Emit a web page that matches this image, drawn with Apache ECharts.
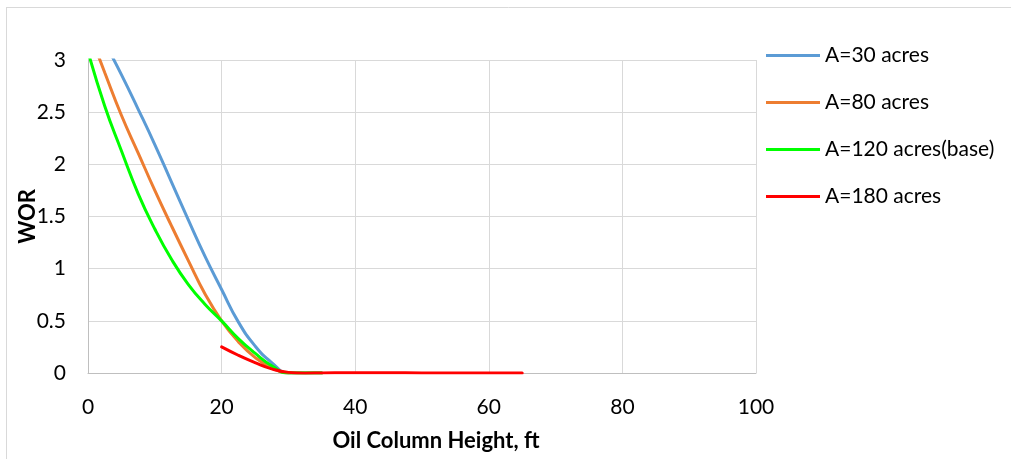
<!DOCTYPE html>
<html>
<head>
<meta charset="utf-8">
<script src="https://cdn.jsdelivr.net/npm/echarts@6/dist/echarts.min.js"></script>
<style>
  html, body { margin: 0; padding: 0; background: #fff; }
  #chart { width: 1011px; height: 459px; }
</style>
</head>
<body>
<div id="chart"></div>
<script>
// WOR versus oil column height for several drainage areas
const seriesNames = ['A=30 acres', 'A=80 acres', 'A=120 acres(base)', 'A=180 acres'];

// oil column height, ft (shared by the first three cases)
const heightFt = [0, 2.5, 5, 7.5, 10, 12.5, 15, 17.5, 20, 22.5, 25, 27.5, 30, 32.5, 35];

const wor30 = [3.48, 3.17, 2.86, 2.53, 2.19, 1.83, 1.47, 1.12, 0.80, 0.49, 0.26, 0.10, 0.0, 0, 0];
const wor80 = [3.30, 2.88, 2.47, 2.11, 1.75, 1.41, 1.08, 0.76, 0.50, 0.30, 0.15, 0.05, 0.0, 0, 0];
const wor120 = [3.08, 2.56, 2.13, 1.72, 1.38, 1.09, 0.85, 0.66, 0.50, 0.33, 0.19, 0.07, 0.0, 0, 0];

// the 180-acre case starts at 20 ft
const height180 = [20, 22.5, 25, 27.5, 30, 32.5, 35, 40, 45, 50, 55, 60, 65];
const wor180 = [0.25, 0.17, 0.10, 0.04, 0.006, -0.002, 0, 0.003, 0.002, 0.001, 0.0005, 0.0003, 0];

const xTicks = [0, 20, 40, 60, 80, 100];
const yTicks = [0, 0.5, 1, 1.5, 2, 2.5, 3];

const colors = ['#5b9bd5', '#ed7d31', '#00ff00', '#ff0000'];

function pairs(xs, ys) { return xs.map((x, i) => [x, ys[i]]); }

const font = 'Lato, "Liberation Sans", sans-serif';

const chart = echarts.init(document.getElementById('chart'), null, { renderer: 'canvas' });

const dataSets = [
  pairs(heightFt, wor30),
  pairs(heightFt, wor80),
  pairs(heightFt, wor120),
  pairs(height180, wor180)
];

chart.setOption({
  animation: false,
  backgroundColor: '#ffffff',
  color: colors,
  graphic: [
    { type: 'line', shape: { x1: 6, y1: 7.5, x2: 1011, y2: 7.5 }, style: { stroke: '#d9d9d9', lineWidth: 1 } },
    { type: 'line', shape: { x1: 6.5, y1: 7, x2: 6.5, y2: 459 }, style: { stroke: '#d9d9d9', lineWidth: 1 } }
  ],
  grid: { left: 88, right: 255, top: 60, bottom: 86, containLabel: false, outerBoundsMode: 'none' },
  legend: {
    orient: 'vertical',
    left: 766,
    top: 42,
    padding: 0,
    itemWidth: 54,
    itemHeight: 24,
    itemGap: 20,
    icon: 'path://M0,0 L54,0 L54,3 L0,3 Z',
    textStyle: { fontFamily: font, fontSize: 21, color: '#000', lineHeight: 27 },
    data: seriesNames
  },
  xAxis: {
    type: 'value',
    min: xTicks[0],
    max: xTicks[xTicks.length - 1],
    interval: 20,
    name: 'Oil Column Height, ft',
    nameLocation: 'middle',
    nameGap: 57,
    nameMoveOverlap: false,
    nameTextStyle: { fontFamily: font, fontSize: 22, fontWeight: 'bold', color: '#000', padding: [0, 0, 0, 28] },
    axisLine: { show: true, lineStyle: { color: '#bfbfbf', width: 1 } },
    axisTick: { show: false },
    axisLabel: { fontFamily: font, fontSize: 21, color: '#000', margin: 24 },
    splitLine: { show: true, lineStyle: { color: '#d9d9d9', width: 1 } }
  },
  yAxis: {
    type: 'value',
    min: yTicks[0],
    max: yTicks[yTicks.length - 1],
    interval: 0.5,
    name: 'WOR',
    nameLocation: 'middle',
    nameRotate: 90,
    nameGap: 49,
    nameMoveOverlap: false,
    nameTextStyle: { fontFamily: font, fontSize: 22, fontWeight: 'bold', color: '#000' },
    axisLine: { show: true, lineStyle: { color: '#bfbfbf', width: 1 } },
    axisTick: { show: false },
    axisLabel: { fontFamily: font, fontSize: 21, color: '#000', margin: 22 },
    splitLine: { show: true, lineStyle: { color: '#d9d9d9', width: 1 } }
  },
  series: seriesNames.map((name, i) => ({
    name: name,
    type: 'line',
    data: dataSets[i],
    smooth: true,
    showSymbol: false,
    symbol: 'none',
    clip: true,
    lineStyle: { width: 3, color: colors[i], cap: 'round' },
    z: 2 + i
  }))
});
</script>
</body>
</html>
